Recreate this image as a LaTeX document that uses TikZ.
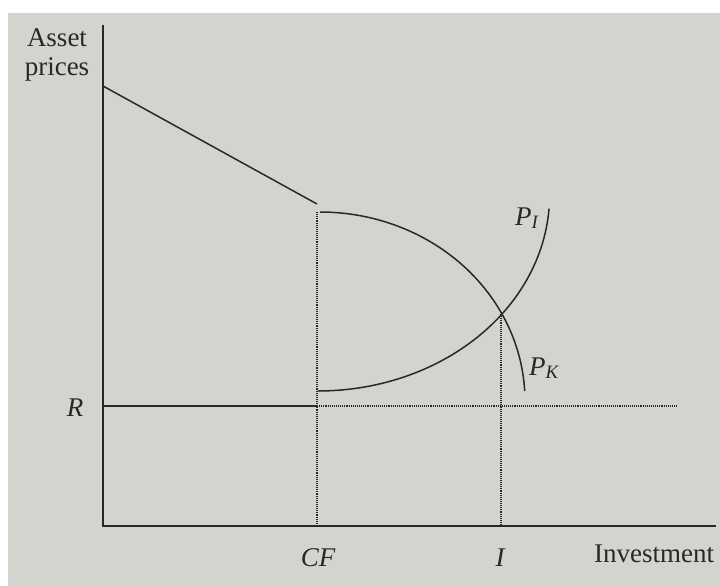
\documentclass[tikz,border=0pt]{standalone}
\usepackage{fontspec}
\setmainfont{Liberation Serif}
\usepackage{tikz}
\usetikzlibrary{positioning,calc}
\definecolor{PageGray}{RGB}{212,212,206}
\definecolor{Ink}{RGB}{40,40,40}
\tikzset{
  axis/.style={draw=Ink,line width=1.6pt},
  curve/.style={draw=Ink,line width=1.5pt},
  guide/.style={draw=Ink,line width=1.1pt,densely dotted},
  lbl/.style={text=Ink,font=\fontsize{27}{30}\selectfont,inner sep=0pt,anchor=base},
}

\begin{document}
\begin{tikzpicture}[x=1pt,y=-1pt]
\useasboundingbox (0,0) rectangle (720,586);
\fill[PageGray] (8,13) rectangle (720,586);
\coordinate (o) at (103,526);
\coordinate (ytop) at (103,25);
\coordinate (xend) at (716,526);
\coordinate (a) at (103,86);
\coordinate (b) at (317,204);
\coordinate (cftop) at (317,212);
\coordinate (cf) at (317,526);
\coordinate (r) at (103,406);
\coordinate (rcf) at (317,406);
\coordinate (rend) at (677,406);
\coordinate (eq) at (501,314);
\coordinate (i) at (501,526);
\draw[axis] (ytop) -- (o) -- (xend);
\draw[curve] (a) -- (b);
\draw[axis] (r) -- (rcf);
\draw[guide] (rcf) -- (rend);
\draw[guide] (cftop) -- (cf);
\draw[guide] (eq) -- (i);
% the two price curves
\draw[curve] plot[domain=90:3,samples=60] ({320+205*cos(\x)},{401-189*sin(\x)});
\draw[curve] plot[domain=90:4,samples=60] ({318+231.6*cos(\x)},{195+196*sin(\x)});
\node[lbl] (asset) at (57,47) {Asset};
\node[lbl] (prices) at (57,75) {prices};
\node[lbl] (rlab) at (75,416) {\itshape R};
\node[lbl] (cflab) at (318,566) {\itshape CF};
\node[lbl] (ilab) at (500,566) {\itshape I};
\node[lbl] (invlab) at (654,562) {Investment};
\node[lbl,anchor=base west] (pi) at (515,225) {\itshape P\textsubscript{I}};
\node[lbl,anchor=base west] (pk) at (529,375) {\itshape P\textsubscript{K}};
\end{tikzpicture}
\end{document}
